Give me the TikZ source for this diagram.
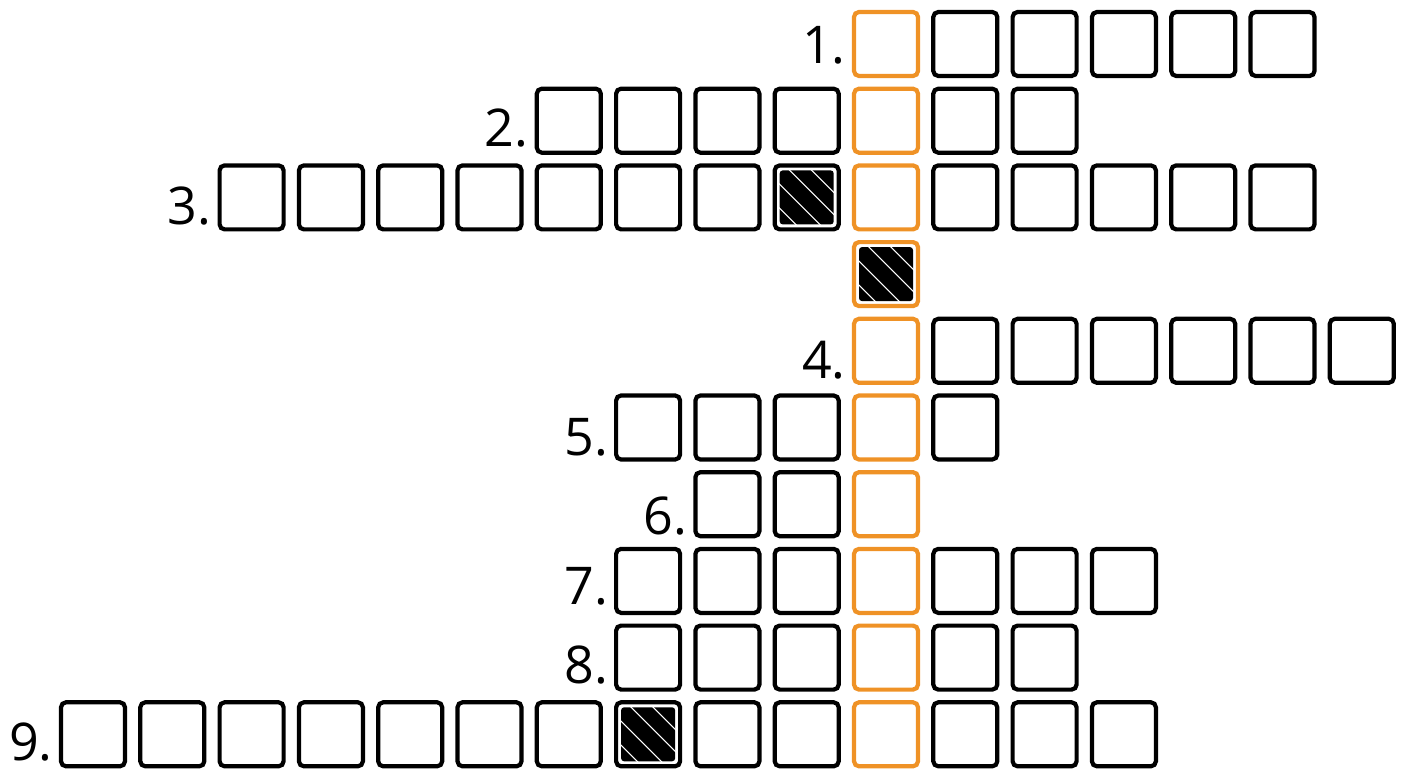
\documentclass[tikz,border=0pt]{standalone}
\usepackage{fontspec}
\setmainfont{Open Sans}
\definecolor{cwOrange}{RGB}{239,146,38}
\begin{document}
\begin{tikzpicture}[x=0.05cm,y=-0.05cm,
  cell/.style={draw=black, line width=0.21cm, rounded corners=0.25cm, minimum size=3.2cm, inner sep=0pt},
  ocell/.style={cell, draw=cwOrange},
  hatch/.style={path picture={
    \fill[black,rounded corners=0.15cm] ([shift={(0.25cm,0.25cm)}]path picture bounding box.south west) rectangle ([shift={(-0.25cm,-0.25cm)}]path picture bounding box.north east);
    \foreach \d in {-1.9,-0.7,0.5,1.6}
      \draw[white,line width=0.05cm] ([shift={(\d cm-2cm,2cm)}]path picture bounding box.center) -- ++(4cm,-4cm);
  }},
  lbl/.style={font=\fontsize{74}{74}\selectfont, anchor=base east, inner sep=0pt}
]
\useasboundingbox (0,0) rectangle (1411,771);
% row 1
\foreach \k in {1,...,5} \node[cell] (r1c\k) at ({886+79.3*\k},44) {};
\node[ocell] (r1c0) at (886,44) {};
% row 2
\foreach \k in {-4,...,-1,1,2} \node[cell] (r2c\k) at ({886+79.3*\k},120.7) {};
\node[ocell] (r2c0) at (886,120.7) {};
% row 3
\foreach \k in {-8,...,-2,1,2,3,4,5} \node[cell] (r3c\k) at ({886+79.3*\k},197.4) {};
\node[cell,hatch] (r3c-1) at ({886-79.3},197.4) {};
\node[ocell] (r3c0) at (886,197.4) {};
% black orange cell
\node[ocell,hatch] (rbc0) at (886,274.1) {};
% row 4
\foreach \k in {1,...,6} \node[cell] (r4c\k) at ({886+79.3*\k},350.8) {};
\node[ocell] (r4c0) at (886,350.8) {};
% row 5
\foreach \k in {-3,-2,-1,1} \node[cell] (r5c\k) at ({886+79.3*\k},427.5) {};
\node[ocell] (r5c0) at (886,427.5) {};
% row 6
\foreach \k in {-2,-1} \node[cell] (r6c\k) at ({886+79.3*\k},504.2) {};
\node[ocell] (r6c0) at (886,504.2) {};
% row 7
\foreach \k in {-3,-2,-1,1,2,3} \node[cell] (r7c\k) at ({886+79.3*\k},580.9) {};
\node[ocell] (r7c0) at (886,580.9) {};
% row 8
\foreach \k in {-3,-2,-1,1,2} \node[cell] (r8c\k) at ({886+79.3*\k},657.6) {};
\node[ocell] (r8c0) at (886,657.6) {};
% row 9
\foreach \k in {-10,...,-4,-2,-1,1,2,3} \node[cell] (r9c\k) at ({886+79.3*\k},734.3) {};
\node[cell,hatch] (r9c-3) at ({886-79.3*3},734.3) {};
\node[ocell] (r9c0) at (886,734.3) {};
% labels
\node[lbl] (L1) at ([xshift=-0.3cm,yshift=-1.0cm]r1c0.west) {1.};
\node[lbl] (L2) at ([xshift=-0.3cm,yshift=-1.3cm]r2c-4.west) {2.};
\node[lbl] (L3) at ([xshift=-0.3cm,yshift=-1.35cm]r3c-8.west) {3.};
\node[lbl] (L4) at ([xshift=-0.3cm,yshift=-1.4cm]r4c0.west) {4.};
\node[lbl] (L5) at ([xshift=-0.3cm,yshift=-1.4cm]r5c-3.west) {5.};
\node[lbl] (L6) at ([xshift=-0.3cm,yshift=-1.5cm]r6c-2.west) {6.};
\node[lbl] (L7) at ([xshift=-0.3cm,yshift=-1.2cm]r7c-3.west) {7.};
\node[lbl] (L8) at ([xshift=-0.3cm,yshift=-1.3cm]r8c-3.west) {8.};
\node[lbl] (L9) at ([xshift=-0.3cm,yshift=-1.3cm]r9c-10.west) {9.};
\end{tikzpicture}
\end{document}
